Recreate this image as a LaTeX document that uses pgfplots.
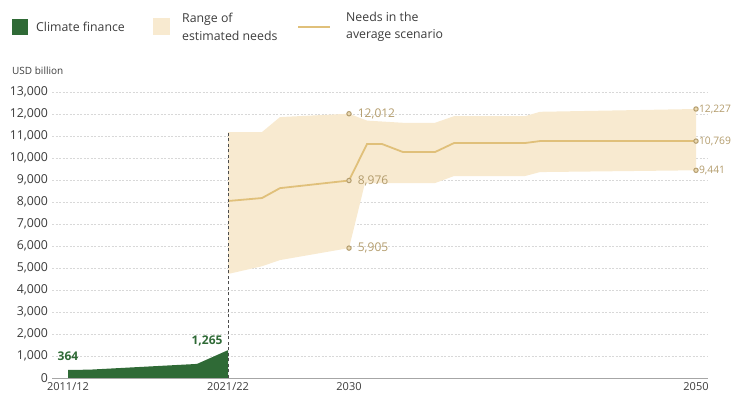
\documentclass[border=0pt]{standalone}
\usepackage{pgfplots}
\pgfplotsset{compat=1.18}
\usepgfplotslibrary{fillbetween}
\usepackage{fontspec}
\setmainfont{Open Sans}
\definecolor{cfgreen}{HTML}{2F6A36}
\definecolor{band}{HTML}{F8EAD0}
\definecolor{needline}{HTML}{E0C07A}
\definecolor{tandark}{HTML}{B39C6C}
\definecolor{tanlight}{HTML}{EBD9B2}
\definecolor{txt}{HTML}{3C3C3C}
\definecolor{gridc}{HTML}{D8D8D8}
\begin{document}
\begin{tikzpicture}[x=1pt,y=1pt]
% legend
\fill[cfgreen] (12,361) rectangle (28,377);
\node[anchor=west, font=\fontsize{12.3}{14}\selectfont, text=txt, inner sep=0] at (36,369) {Climate finance};
\fill[band] (153,361) rectangle (170,378);
\node[anchor=west, align=left, font=\fontsize{12.3}{17.5}\selectfont, text=txt, inner sep=0] at (182,369) {Range of\\estimated needs};
\draw[needline, line width=2pt] (298,369) -- (330,369);
\node[anchor=west, align=left, font=\fontsize{12.3}{17.5}\selectfont, text=txt, inner sep=0] at (346,369) {Needs in the\\average scenario};
\node[anchor=west, font=\fontsize{10}{12}\selectfont, text=txt, inner sep=0] at (12,325) {USD billion};
\begin{axis}[
  at={(52pt,18pt)}, anchor=south west,
  scale only axis, width=656pt, height=286pt,
  xmin=52, xmax=708, ymin=0, ymax=13000,
  axis x line*=bottom, axis y line*=left,
  x axis line style={draw=gray!70, line width=0.8pt},
  y axis line style={draw=none},
  major tick length=0pt,
  ytick={0,1000,...,13000},
  /pgf/number format/1000 sep={,},
  /pgf/number format/assume math mode=true,
  scaled y ticks=false,
  yticklabel style={font=\fontsize{12.3}{14}\selectfont, text=txt, xshift=-0.5pt},
  xtick={68,228,349,696},
  xticklabels={2011/12,2021/22,2030,2050},
  xticklabel style={font=\fontsize{11}{13}\selectfont, text=txt, yshift=-0.5pt},
  ymajorgrids, grid style={gridc, dash pattern=on 2pt off 1.5pt, line width=0.5pt},
  clip=false,
]
% range band
\addplot[name path=upper, draw=none] coordinates {
 (228,11180) (262,11180) (280,11860) (349,12012) (367,11700) (403,11600) (435,11600)
 (454,11900) (525,11900) (540,12100) (696,12227)};
\addplot[name path=lower, draw=none] coordinates {
 (228,4727) (262,5080) (280,5360) (349,5905) (365,8860) (435,8860)
 (454,9180) (525,9180) (540,9360) (696,9441)};
\addplot[band] fill between[of=upper and lower];
% needs line
\addplot[needline, line width=1.8pt] coordinates {
 (228,8045) (262,8180) (280,8630) (349,8976) (367,10636) (382,10636) (403,10270)
 (435,10270) (454,10680) (525,10680) (540,10769) (696,10769)};
% climate finance
\addplot[fill=cfgreen, draw=none] coordinates {
 (68,364) (90,380) (197,640) (228,1265)} \closedcycle;
% dashed divider
\addplot[gray!60!black, dash pattern=on 3pt off 2.5pt, line width=0.7pt] coordinates {(228,0) (228,11180)};
% end markers with labels
\addplot[only marks, mark=*, mark size=2.2pt,
  mark options={fill=tanlight, draw=tandark, line width=1pt},
  nodes near coords, point meta=y,
  nodes near coords style={anchor=west, xshift=5pt, text=tandark,
     font=\fontsize{12}{14}\selectfont}]
 coordinates {(349,12012) (349,8976) (349,5905)};
\addplot[only marks, mark=*, mark size=2.2pt,
  mark options={fill=tanlight, draw=tandark, line width=1pt},
  nodes near coords, point meta=y,
  nodes near coords style={anchor=west, xshift=1.5pt, inner xsep=1pt, text=tandark,
     font=\fontsize{10.3}{12}\selectfont}]
 coordinates {(696,12227) (696,10769) (696,9441)};
% finance labels
\node[font=\bfseries\fontsize{12}{14}\selectfont, text=cfgreen, anchor=south] at (axis cs:68,640) {364};
\node[font=\bfseries\fontsize{12}{14}\selectfont, text=cfgreen, anchor=south east] at (axis cs:226,1300) {1,265};
\end{axis}
\pgfresetboundingbox
\path[use as bounding box] (0,0) rectangle (737,396);
\end{tikzpicture}
\end{document}
